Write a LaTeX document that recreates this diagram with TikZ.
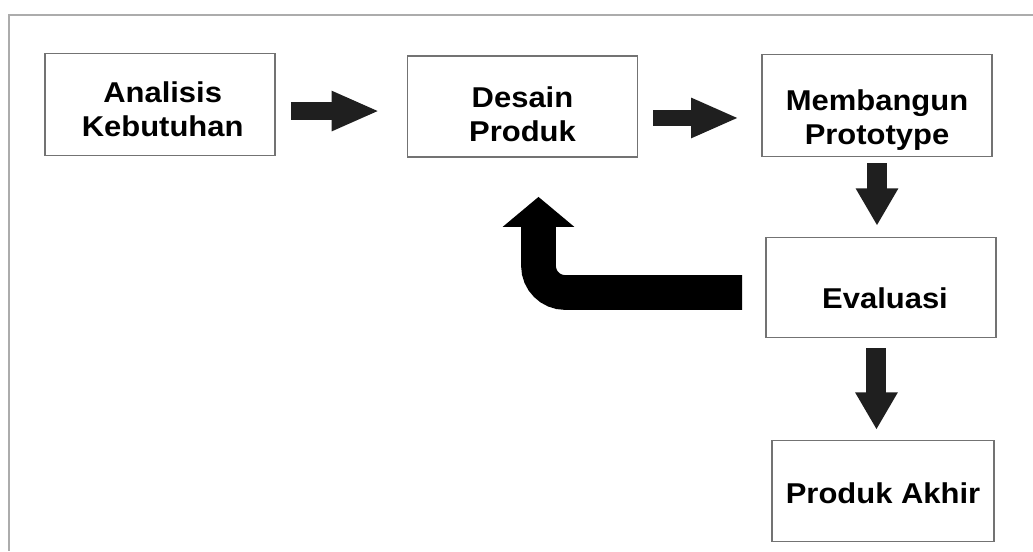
\documentclass[tikz,border=0pt]{standalone}
\usepackage{fontspec}
\setmainfont{Liberation Sans}[FakeStretch=1.08]
\usepackage{xcolor}
\usepackage{tikz}
\usetikzlibrary{positioning, arrows.meta}

\begin{document}
\begin{tikzpicture}[
        x=0.75pt, y=-0.75pt,
        stage/.style={draw=black!55, line width=1.3pt, fill=white, minimum width=172.5pt, minimum height=76.5pt},
        txt/.style={align=center, inner sep=0pt, font=\fontsize{21.5}{25.5}\selectfont\bfseries},
        flow/.style={line width=#1, black!88, -{Triangle[length=36pt, width=27.5pt]}},
        flow/.default=14pt,
        drop/.style={line width=15pt, black!88, -{Triangle[length=28pt, width=30pt]}},
        back/.style={line width=26pt, black, rounded corners=20pt, -{Triangle[length=22.5pt, width=52.5pt]}}
    ]
    \useasboundingbox (0,0) rectangle (1033,551);
    % frame (cut at right and bottom)
    \draw[gray!65, line width=1.2pt] (1033,15) -- (9,15) -- (9,551);

    % Top row
    \node[stage, label={[txt, xshift=2pt, yshift=-3.75pt]center:Analisis\\Kebutuhan}] (ana) at (160,104.5) {};
    \node[stage, minimum height=75.75pt, label={[txt, yshift=-6pt]center:Desain\\Produk}] (des) at (522.5,106.5) {};
    \node[stage, label={[txt, yshift=-11pt]center:Membangun\\Prototype}] (mem) at (877,105.5) {};

    % Right column
    \node[stage, minimum height=75pt, label={[txt, xshift=3pt, yshift=-8pt]center:Evaluasi}] (eva) at (881,287.5) {};
    \node[stage, minimum width=166.5pt, minimum height=75.75pt, label={[txt, yshift=-1.5pt]center:Produk Akhir}] (akh) at (883,491) {};

    % Turning point of the way back
    \coordinate (ret) at ([xshift=12pt, yshift=-29.25pt]des.south);

    % Forward arrows
    \draw[flow, shorten <=11.25pt, shorten >=20.25pt] ([yshift=-4.9pt]ana.east) -- ([yshift=-4.9pt]ana.east -| des.west);
    \draw[flow=12.5pt, shorten <=11.25pt, shorten >=16.5pt] ([yshift=-8.6pt]des.east) -- ([yshift=-8.6pt]des.east -| mem.west);
    \draw[drop, shorten <=4.5pt, shorten >=8.25pt] (mem.south) -- (mem.south |- eva.north);
    \draw[drop, shorten <=7.5pt, shorten >=7.5pt] ([xshift=-3.4pt]eva.south) -- ([xshift=-3.4pt]eva.south |- akh.north);

    % Back to design
    \draw[back, shorten <=17.25pt] ([yshift=-3.75pt]eva.west) -| (ret);

\end{tikzpicture}
\end{document}
